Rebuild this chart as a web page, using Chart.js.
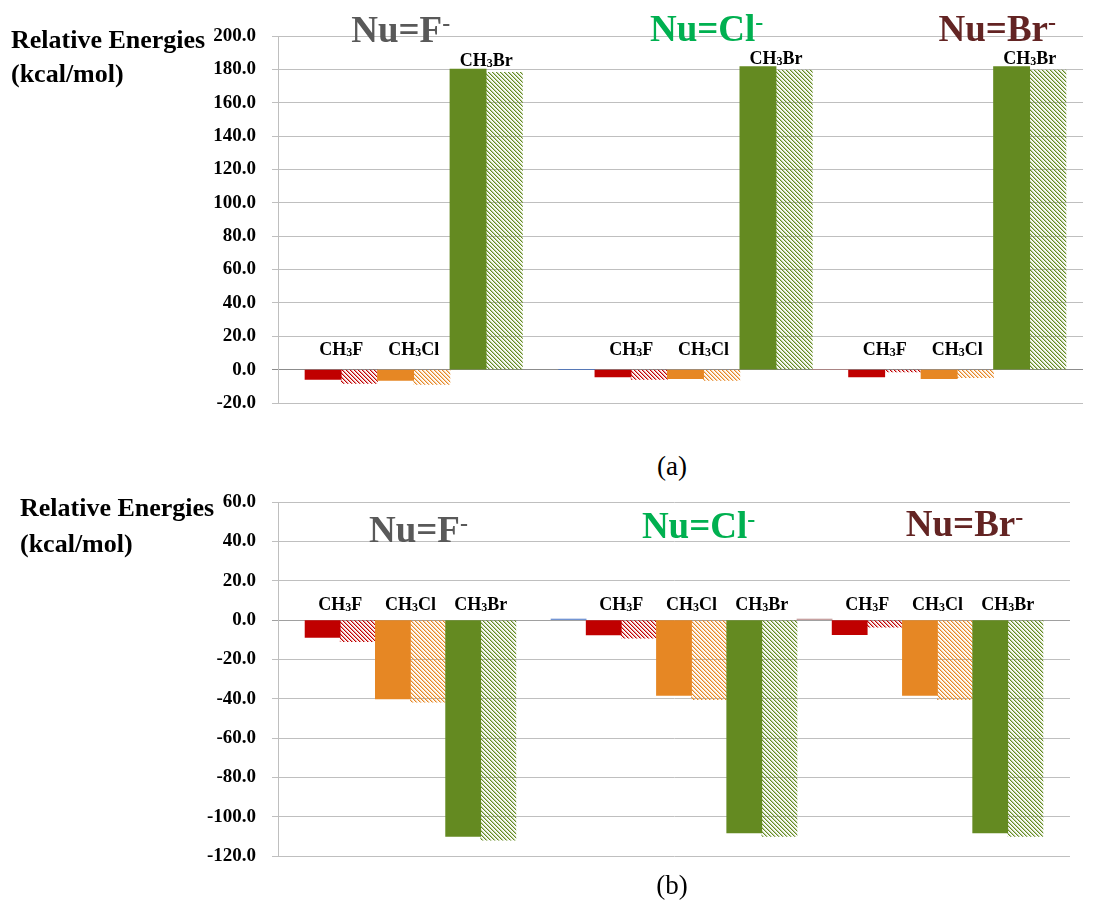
<!DOCTYPE html>
<html>
<head>
<meta charset="utf-8">
<script src="https://cdn.jsdelivr.net/npm/chart.js@4.4.1/dist/chart.umd.min.js"></script>
<style>
  body { margin:0; background:#fff; }
  #page { position:relative; width:1118px; height:916px; overflow:hidden; }
  canvas { position:absolute; left:0; }
  .cap { position:absolute; left:572px; width:200px; text-align:center; font:27px "Liberation Serif", serif; color:#000; }
</style>
</head>
<body>
<div id="page">
  <canvas id="chartA" width="1118" height="440" style="top:0"></canvas>
  <div class="cap" style="top:451px">(a)</div>
  <canvas id="chartB" width="1118" height="420" style="top:470px"></canvas>
  <div class="cap" style="top:870px">(b)</div>
</div>
<script>
const nucleophiles = ['F', 'Cl', 'Br'];
const headColors = ['#595959', '#00B050', '#632423'];
const substrates = ['CH3F', 'CH3Cl', 'CH3Br'];
const barColors = ['#C00000', '#E68724', '#648A21'];

// (a) relative energies, kcal/mol: rows = Nu, cols = substrate
const solidA = [[-5.8, -6.4, 180.2], [-4.4, -5.4, 181.6], [-4.4, -5.4, 181.6]];
const hatchA = [[-8.2, -8.8, 178.2], [-5.8, -6.4, 179.6], [-1.4, -4.8, 179.6]];
const spacerA = [0, 0];
const ticksA = [-20, 200, 20];

// (b)
const solidB = [[-8.8, -40.1, -110.0], [-7.6, -38.4, -108.3], [-7.5, -38.4, -108.3]];
const hatchB = [[-11.0, -41.8, -112.0], [-9.3, -40.5, -110.0], [-3.7, -40.5, -110.0]];
const spacerB = [0.5, 0.5];
const ticksB = [-120, 60, 20];

const spacerColors = ['#4472C4', '#B58282'];
const SERIF = '"Liberation Serif", "Times New Roman", serif';

function hatchPattern(ctx, hex) {
  const c = document.createElement('canvas');
  c.width = c.height = 4;
  const g = c.getContext('2d');
  const img = g.createImageData(4, 4);
  const rgb = [1, 3, 5].map(i => parseInt(hex.substr(i, 2), 16));
  const alpha = [255, 110, 20, 0];
  for (let y = 0; y < 4; y++) for (let x = 0; x < 4; x++) {
    const k = (((x - y) % 4) + 4) % 4, p = (y * 4 + x) * 4;
    img.data[p] = rgb[0]; img.data[p + 1] = rgb[1]; img.data[p + 2] = rgb[2]; img.data[p + 3] = alpha[k];
  }
  g.putImageData(img, 0, 0);
  return ctx.createPattern(c, 'repeat');
}

// one slot per bar: solid/hatched pairs, with the spacer series between groups
function buildSlots(ctx, solid, hatched, spacer) {
  const slots = [];
  nucleophiles.forEach((nu, g) => {
    substrates.forEach((s, k) => {
      slots.push({ v: solid[g][k], fill: barColors[k], g, k, kind: 'solid' });
      slots.push({ v: hatched[g][k], fill: hatchPattern(ctx, barColors[k]), g, k });
    });
    if (g === 0) { slots.push({ v: null, fill: 'transparent' }); slots.push({ v: spacer[0], fill: spacerColors[0] }); }
    if (g === 1) slots.push({ v: spacer[1], fill: spacerColors[1] });
  });
  return slots;
}

function drawFormula(ctx, text, cx, base) {
  const parts = text.split(/(\d)/);
  const fonts = parts.map((p, i) => i % 2 ? 'bold 12px ' + SERIF : 'bold 18px ' + SERIF);
  const widths = parts.map((p, i) => { ctx.font = fonts[i]; return ctx.measureText(p).width; });
  let x = cx - widths.reduce((a, b) => a + b, 0) / 2;
  parts.forEach((p, i) => { ctx.font = fonts[i]; ctx.fillText(p, x, base + (i % 2 ? 1 : 0)); x += widths[i]; });
}

const annotate = {
  id: 'annotate',
  afterDatasetsDraw(chart, args, o) {
    const { ctx, scales: { x, y } } = chart;
    const slots = o.slots;
    ctx.save();
    ctx.textAlign = 'left';
    ctx.textBaseline = 'alphabetic';
    ctx.fillStyle = '#000';
    slots.forEach((s, i) => {
      if (s.kind !== 'solid') return;
      const top = Math.max(0, s.v, slots[i + 1].v);
      const base = y.getPixelForValue(top) - (top > 0 ? 3 : o.labelLift);
      drawFormula(ctx, substrates[s.k], x.getPixelForValue(i + 0.5), base);
    });
    nucleophiles.forEach((nu, g) => {
      const idx = slots.map((s, i) => s.g === g ? i : -1).filter(i => i >= 0);
      const cx = (x.getPixelForValue(idx[0] - 0.5) + x.getPixelForValue(idx[idx.length - 1] + 0.5)) / 2 + o.headShift[g];
      const main = 'Nu=' + nu;
      ctx.font = 'bold 37px ' + SERIF;
      const w = ctx.measureText(main).width;
      ctx.font = 'bold 24px ' + SERIF;
      const dw = ctx.measureText('-').width;
      const x0 = cx - (w + dw) / 2;
      ctx.fillStyle = headColors[g];
      ctx.font = 'bold 37px ' + SERIF;
      ctx.fillText(main, x0, o.headBase[g]);
      ctx.font = 'bold 24px ' + SERIF;
      ctx.fillText('-', x0 + w, o.headBase[g] - 11);
    });
    ctx.fillStyle = '#000';
    ctx.font = 'bold 26px ' + SERIF;
    ctx.fillText('Relative Energies', o.titleX, o.titleBase[0]);
    ctx.fillText('(kcal/mol)', o.titleX, o.titleBase[1]);
    ctx.restore();
  }
};

function makeChart(id, solid, hatched, spacer, ticks, opt) {
  const canvas = document.getElementById(id);
  const ctx = canvas.getContext('2d');
  const slots = buildSlots(ctx, solid, hatched, spacer);
  const lo = -0.5 - opt.edge[0], hi = slots.length - 0.5 + opt.edge[1];
  return new Chart(ctx, {
    type: 'bar',
    data: {
      datasets: [{
        data: slots.map((s, i) => ({ x: i, y: s.v })),
        backgroundColor: slots.map(s => s.fill),
        borderWidth: 0,
        barPercentage: 1,
        categoryPercentage: 1
      }]
    },
    options: {
      responsive: false,
      animation: false,
      devicePixelRatio: 1,
      layout: { padding: opt.padding },
      plugins: {
        legend: { display: false },
        tooltip: { enabled: false },
        annotate: { slots, ...opt.notes }
      },
      scales: {
        x: {
          type: 'linear', display: false, offset: false, bounds: 'data',
          min: lo, max: hi,
          afterBuildTicks: s => { s.min = lo; s.max = hi; }
        },
        y: {
          min: ticks[0], max: ticks[1],
          afterFit: s => { s.width = 278; },
          border: { color: '#bfbfbf', width: 1 },
          grid: {
            color: c => c.tick && c.tick.value === 0 ? opt.zeroColor : '#bfbfbf',
            lineWidth: 1, tickLength: 6
          },
          ticks: {
            stepSize: ticks[2], padding: 16, color: '#000',
            font: { family: SERIF, size: 19, weight: 'bold' },
            callback: v => v.toFixed(1)
          }
        }
      }
    },
    plugins: [annotate]
  });
}

makeChart('chartA', solidA, hatchA, spacerA, ticksA, {
  padding: { top: 36, bottom: 37, left: 0, right: 35 },
  edge: [0.745, 0.47],
  zeroColor: '#8c8c8c',
  notes: { labelLift: 15, headShift: [-13, 3, 40], headBase: [42, 41, 41], titleX: 11, titleBase: [48, 82] }
});

makeChart('chartB', solidB, hatchB, spacerB, ticksB, {
  padding: { top: 32, bottom: 34, left: 0, right: 48 },
  edge: [0.77, 0.77],
  zeroColor: '#a0a0a0',
  notes: { labelLift: 10, headShift: [8, 7, 27], headBase: [72, 68, 66], titleX: 20, titleBase: [46, 82] }
});
</script>
</body>
</html>
